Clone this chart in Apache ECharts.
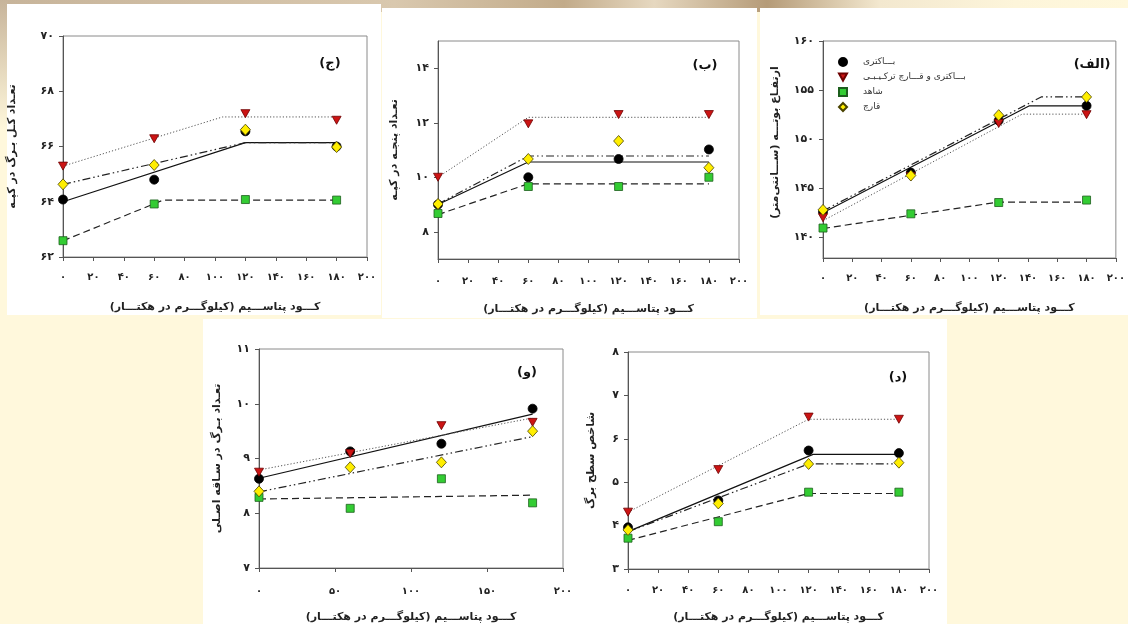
<!DOCTYPE html>
<html><head><meta charset="utf-8">
<script src="https://cdn.jsdelivr.net/npm/echarts@6/dist/echarts.min.js"></script>
<style>html,body{margin:0;padding:0;background:#fff8dc;} #c{width:1128px;height:624px;}</style>
</head><body><div id="c"></div>
<script>
// ---------- data ----------
const xDoses = [0, 60, 120, 180];
const FA_DIGITS = ['۰','۱','۲','۳','۴','۵','۶','۷','۸','۹'];
const NAMES = ['بـــاکتری', 'بـــاکتری و قـــارچ ترکـیـبـی', 'شاهد', 'قارچ'];
const X_TITLE = 'کـــود پتاســـیم (کیلوگـــرم در هکتـــار)\u200F';

// (الف) plant height
const hgtBact = [142.6, 146.6, 151.9, 153.4];
const hgtMix  = [142.0, 146.2, 151.6, 152.5];
const hgtCtrl = [140.95, 142.4, 143.55, 143.8];
const hgtFung = [142.8, 146.3, 152.45, 154.3];
const hgtBactFit = [[0,142.5],[141,153.4],[180,153.4]];
const hgtMixFit  = [[0,141.7],[136,152.55],[180,152.55]];
const hgtCtrlFit = [[0,140.9],[120,143.6],[180,143.6]];
const hgtFungFit = [[0,142.7],[149,154.3],[180,154.3]];
const hgtYTicks = [140, 145, 150, 155, 160];

// (ب) tillers per hill
const tilBact = [9.0, 10.0, 10.67, 11.02];
const tilMix  = [10.0, 11.96, 12.3, 12.3];
const tilCtrl = [8.67, 9.66, 9.66, 10.0];
const tilFung = [9.02, 10.67, 11.33, 10.35];
const tilBactFit = [[0,9.0],[60,10.56],[180,10.56]];
const tilMixFit  = [[0,10.0],[60,12.2],[180,12.2]];
const tilCtrlFit = [[0,8.63],[60,9.76],[180,9.76]];
const tilFungFit = [[0,9.02],[60,10.78],[180,10.78]];
const tilYTicks = [8, 10, 12, 14];

// (ج) total leaves per hill
const lfBact = [64.08, 64.8, 66.55, 66.0];
const lfMix  = [65.29, 66.28, 67.19, 66.95];
const lfCtrl = [62.59, 63.92, 64.08, 64.06];
const lfFung = [64.63, 65.33, 66.61, 65.98];
const lfBactFit = [[0,64.0],[120,66.14],[180,66.14]];
const lfMixFit  = [[0,65.29],[105,67.07],[180,67.07]];
const lfCtrlFit = [[0,62.59],[66,64.06],[180,64.06]];
const lfFungFit = [[0,64.63],[120,66.14],[180,66.14]];
const lfYTicks = [62, 64, 66, 68, 70];

// (و) leaves on main stem
const msBact = [8.63, 9.13, 9.27, 9.91];
const msMix  = [8.75, 9.09, 9.6, 9.66];
const msCtrl = [8.29, 8.09, 8.63, 8.19];
const msFung = [8.40, 8.84, 8.93, 9.5];
const msBactFit = [[0,8.64],[180,9.81]];
const msMixFit  = [[0,8.79],[180,9.74]];
const msCtrlFit = [[0,8.26],[180,8.33]];
const msFungFit = [[0,8.39],[180,9.40]];
const msYTicks = [7, 8, 9, 10, 11];

// (د) leaf area index
const laiBact = [3.96, 4.58, 5.73, 5.67];
const laiMix  = [4.31, 5.29, 6.50, 6.45];
const laiCtrl = [3.71, 4.09, 4.77, 4.77];
const laiFung = [3.90, 4.51, 5.42, 5.45];
const laiBactFit = [[0,3.86],[123,5.64],[180,5.64]];
const laiMixFit  = [[0,4.31],[120,6.45],[180,6.45]];
const laiCtrlFit = [[0,3.66],[120,4.74],[180,4.74]];
const laiFungFit = [[0,3.86],[120,5.42],[180,5.42]];
const laiYTicks = [3, 4, 5, 6, 7, 8];

// ---------- styling ----------
const FONT = 'DejaVu Sans';
const fa = v => String(v).replace(/\d/g, d => FA_DIGITS[+d]);
const SYM = ['circle', 'path://M0,0L10,0L5,9Z', 'rect', 'diamond'];
const FILL = ['#000000', '#cc1414', '#33cc33', '#ffee00'];
const BORDER = ['#000000', '#6e0000', '#1d5e1d', '#4a4300'];
const SIZE = [9, [9, 8], 8, [10, 11]];
const LINES = [
  {type: 'solid', color: '#111', width: 1.2},
  {type: [1.2, 2], color: '#555', width: 1},
  {type: [7, 4], color: '#222', width: 1.2},
  {type: [8, 3, 1.5, 3, 1.5, 3], color: '#222', width: 1.2}
];

const panels = [
  {grid:{left:63, top:36, width:304, height:221}, yMin:62, yMax:70, yTicks:lfYTicks, xInt:20,
   yName:'تعـداد کـل بـرگ در کپـه', yGap:45, xGap:45, lm:15, yPad:[0,0,0,0],
   vals:[lfBact, lfMix, lfCtrl, lfFung], fits:[lfBactFit, lfMixFit, lfCtrlFit, lfFungFit]},
  {grid:{left:438, top:41, width:301, height:218}, yMin:7, yMax:15, yTicks:tilYTicks, xInt:20,
   yName:'تعـداد پنجـه در کپـه', yGap:38, xGap:45, lm:17, yPad:[0,0,0,0],
   vals:[tilBact, tilMix, tilCtrl, tilFung], fits:[tilBactFit, tilMixFit, tilCtrlFit, tilFungFit]},
  {grid:{left:823, top:41, width:300, height:217}, yMin:137.9, yMax:160, yTicks:hgtYTicks, xInt:20,
   yName:'ارتفـاع بوتـــه (ســـانتی‌متر)\u200F', yGap:42, xGap:45, lm:15, yPad:[0,0,0,14],
   vals:[hgtBact, hgtMix, hgtCtrl, hgtFung], fits:[hgtBactFit, hgtMixFit, hgtCtrlFit, hgtFungFit]},
  {grid:{left:259, top:349, width:304, height:219}, yMin:7, yMax:11, yTicks:msYTicks, xInt:50,
   yName:'تعـداد بـرگ در سـاقه اصـلی', yGap:36, xGap:44, lm:18, yPad:[0,0,0,0],
   vals:[msBact, msMix, msCtrl, msFung], fits:[msBactFit, msMixFit, msCtrlFit, msFungFit]},
  {grid:{left:628, top:352, width:301, height:220}, yMin:3, yMax:8, yTicks:laiYTicks, xInt:20,
   yName:'شاخص سطح برگ', yGap:31, xGap:43, lm:16, yPad:[0,0,0,0],
   vals:[laiBact, laiMix, laiCtrl, laiFung], fits:[laiBactFit, laiMixFit, laiCtrlFit, laiFungFit]}
];

const grids = [], xAxes = [], yAxes = [], series = [];
const txt = {color:'#222', fontFamily:FONT, fontWeight:'bold', fontSize:10};
panels.forEach((p, k) => {
  grids.push(Object.assign({show:true, borderColor:'#8a8a8a', borderWidth:1, backgroundColor:'transparent'}, p.grid));
  xAxes.push({
    type:'value', gridIndex:k, min:0, max:200, interval:p.xInt,
    axisLine:{lineStyle:{color:'#555', width:1}}, axisTick:{length:4, lineStyle:{color:'#555'}},
    axisLabel:Object.assign({formatter:fa, margin:p.lm}, txt), splitLine:{show:false},
    name:X_TITLE, nameLocation:'middle', nameGap:p.xGap,
    nameTextStyle:Object.assign({}, txt, {fontSize:11})
  });
  yAxes.push({
    type:'value', gridIndex:k, min:p.yMin, max:p.yMax,
    axisLine:{show:true, lineStyle:{color:'#555', width:1}},
    axisTick:{show:true, length:4, customValues:p.yTicks, lineStyle:{color:'#555'}},
    axisLabel:Object.assign({formatter:fa, margin:9, customValues:p.yTicks}, txt, {fontSize:11}),
    splitLine:{show:false},
    name:p.yName, nameLocation:'middle', nameGap:p.yGap, nameRotate:90,
    nameTextStyle:Object.assign({}, txt, {fontSize:11, padding:p.yPad})
  });
  for (let i = 0; i < 4; i++) {
    series.push({
      type:'line', name:'fit-' + k + '-' + i, xAxisIndex:k, yAxisIndex:k,
      data:p.fits[i], symbol:'none', silent:true, z:2, lineStyle:LINES[i], animation:false
    });
  }
  for (let i = 0; i < 4; i++) {
    series.push({
      type:'scatter', name:NAMES[i], xAxisIndex:k, yAxisIndex:k,
      data:xDoses.map((x, j) => [x, p.vals[i][j]]),
      symbol:SYM[i], symbolSize:SIZE[i], z:3 + (i === 3 ? 1 : 0),
      itemStyle:{color:FILL[i], borderColor:BORDER[i], borderWidth:0.8, opacity:1},
      animation:false
    });
  }
});

const labelStyle = (x, y, t) => ({type:'text', x:x, y:y, z:50,
  style:{text:t, fill:'#111', font:'bold 13px "' + FONT + '"', textAlign:'center', textVerticalAlign:'middle'}});

const option = {
  backgroundColor:'#fff8dc',
  animation:false,
  graphic:[
    {type:'rect', z:-100, shape:{x:0, y:0, width:1128, height:12},
     style:{fill:new echarts.graphic.LinearGradient(0,0,1,0,[
       {offset:0, color:'#c7b49a'}, {offset:0.35, color:'#d9c8ae'}, {offset:0.5, color:'#c2ab8a'},
       {offset:0.58, color:'#e6d8c0'}, {offset:0.68, color:'#b59b78'}, {offset:0.78, color:'#f3e8cf'},
       {offset:0.9, color:'#fdf5da'}, {offset:1, color:'#fff8dc'}])}},
    {type:'rect', z:-99, shape:{x:0, y:0, width:8, height:130},
     style:{fill:new echarts.graphic.LinearGradient(0,0,0,1,[
       {offset:0, color:'#c7b49a'}, {offset:1, color:'#fff8dc'}])}},
    {type:'rect', z:-90, shape:{x:7, y:4, width:374, height:311}, style:{fill:'#ffffff'}},
    {type:'rect', z:-90, shape:{x:382, y:8, width:375, height:310}, style:{fill:'#ffffff'}},
    {type:'rect', z:-90, shape:{x:760, y:8, width:368, height:307}, style:{fill:'#ffffff'}},
    {type:'rect', z:-90, shape:{x:203, y:319, width:744, height:305}, style:{fill:'#ffffff'}},
    labelStyle(330, 64, '(ج)'),
    labelStyle(705, 66, '(ب)'),
    labelStyle(1092, 65, '(الف)'),
    labelStyle(527, 373, '(و)'),
    labelStyle(898, 378, '(د)')
  ],
  legend:{
    data:NAMES, orient:'vertical', left:833, top:52, itemWidth:8, itemHeight:8, itemGap:5,
    selectedMode:false,
    textStyle:{fontSize:9, lineHeight:10, color:'#333', fontFamily:FONT, padding:[0,0,0,11]}
  },
  grid:grids, xAxis:xAxes, yAxis:yAxes, series:series
};

const chart = echarts.init(document.getElementById('c'), null, {renderer:'canvas'});
chart.setOption(option);
</script></body></html>
